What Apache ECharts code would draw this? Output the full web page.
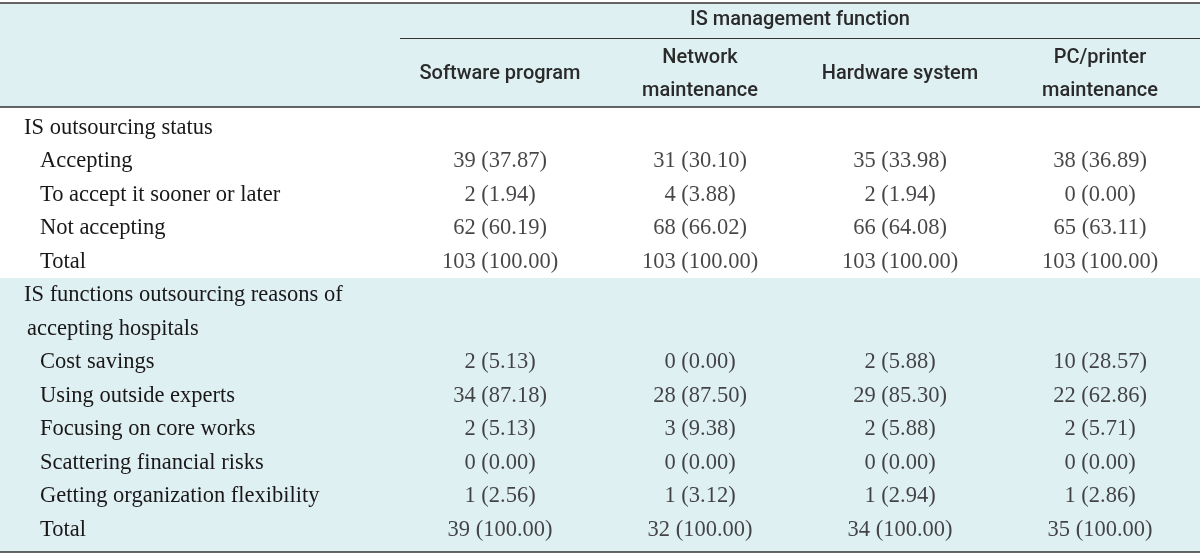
<!DOCTYPE html>
<html>
<head>
<meta charset="utf-8">
<script src="https://cdn.jsdelivr.net/npm/echarts@6/dist/echarts.min.js"></script>
<style>html,body{margin:0;padding:0;background:#fff}#c{width:1200px;height:554px}</style>
</head>
<body>
<div id="c"></div>
<script>
// ---- data ----
const groupTitle = 'IS management function';
const columns = ['Software program', 'Network\nmaintenance', 'Hardware system', 'PC/printer\nmaintenance'];
const rowLabels = [
  'IS outsourcing status',
  'Accepting',
  'To accept it sooner or later',
  'Not accepting',
  'Total',
  'IS functions outsourcing reasons of',
  'accepting hospitals',
  'Cost savings',
  'Using outside experts',
  'Focusing on core works',
  'Scattering financial risks',
  'Getting organization flexibility',
  'Total'
];
// row kinds: h = section heading, c = heading continuation, i = indented item
const rowKinds = ['h', 'i', 'i', 'i', 'i', 'h', 'c', 'i', 'i', 'i', 'i', 'i', 'i'];
// rows that carry values (index into rowLabels)
const valueRows = [1, 2, 3, 4, 7, 8, 9, 10, 11, 12];
const softwareN   = [39, 2, 62, 103, 2, 34, 2, 0, 1, 39];
const softwarePct = ['37.87', '1.94', '60.19', '100.00', '5.13', '87.18', '5.13', '0.00', '2.56', '100.00'];
const networkN    = [31, 4, 68, 103, 0, 28, 3, 0, 1, 32];
const networkPct  = ['30.10', '3.88', '66.02', '100.00', '0.00', '87.50', '9.38', '0.00', '3.12', '100.00'];
const hardwareN   = [35, 2, 66, 103, 2, 29, 2, 0, 1, 34];
const hardwarePct = ['33.98', '1.94', '64.08', '100.00', '5.88', '85.30', '5.88', '0.00', '2.94', '100.00'];
const pcN         = [38, 0, 65, 103, 10, 22, 2, 0, 1, 35];
const pcPct       = ['36.89', '0.00', '63.11', '100.00', '28.57', '62.86', '5.71', '0.00', '2.86', '100.00'];

const colN = [softwareN, networkN, hardwareN, pcN];
const colPct = [softwarePct, networkPct, hardwarePct, pcPct];

// ---- build ----
const cells = [];
colN.forEach((ns, ci) => {
  ns.forEach((n, k) => {
    cells.push({ value: [ci, valueRows[k]], text: n + ' (' + colPct[ci][k] + ')' });
  });
});

const SERIF = '"Liberation Serif", "Times New Roman", serif';
const SANS = 'Roboto, "Open Sans", sans-serif';
const INK = '#1a1718';
const HEAD_INK = '#2a2a2a';
const SHADE = '#dff0f3';
const LINE = '#333333';
const BODY_SIZE = 22.5;
const HEAD_SIZE = 20;

const GRID_TOP = 111, GRID_LEFT = 400, GRID_BOTTOM = 7.5;

const chart = echarts.init(document.getElementById('c'), null, { renderer: 'canvas' });
chart.setOption({
  animation: false,
  backgroundColor: '#ffffff',
  graphic: [
    { type: 'rect', z: -10, shape: { x: 0, y: 3, width: 1200, height: 104 }, style: { fill: SHADE } },
    { type: 'rect', z: -10, shape: { x: 0, y: 278, width: 1200, height: 274 }, style: { fill: SHADE } },
    { type: 'line', z: 10, shape: { x1: 0, y1: 3, x2: 1200, y2: 3 }, style: { stroke: LINE, lineWidth: 1.5 } },
    { type: 'line', z: 10, shape: { x1: 400, y1: 38.5, x2: 1200, y2: 38.5 }, style: { stroke: LINE, lineWidth: 1.2 } },
    { type: 'line', z: 10, shape: { x1: 0, y1: 107, x2: 1200, y2: 107 }, style: { stroke: LINE, lineWidth: 1.5 } },
    { type: 'line', z: 10, shape: { x1: 0, y1: 552, x2: 1200, y2: 552 }, style: { stroke: LINE, lineWidth: 1.5 } }
  ],
  grid: { left: GRID_LEFT, right: 0, top: GRID_TOP, bottom: GRID_BOTTOM, containLabel: false },
  xAxis: {
    type: 'category',
    position: 'top',
    data: columns,
    name: groupTitle,
    nameLocation: 'middle',
    nameGap: 91,
    nameTextStyle: { fontFamily: SANS, fontSize: HEAD_SIZE, fontWeight: 500, color: HEAD_INK, verticalAlign: 'middle' },
    axisLine: { show: false },
    axisTick: { show: false },
    splitLine: { show: false },
    axisLabel: {
      interval: 0,
      margin: 37,
      verticalAlign: 'middle',
      lineHeight: 33,
      fontFamily: SANS,
      fontSize: HEAD_SIZE,
      fontWeight: 500,
      color: HEAD_INK
    }
  },
  yAxis: {
    type: 'category',
    inverse: true,
    data: rowLabels,
    axisLine: { show: false },
    axisTick: { show: false },
    splitLine: { show: false },
    axisLabel: {
      interval: 0,
      align: 'left',
      margin: GRID_LEFT - 24,
      formatter: (v, idx) => '{' + rowKinds[idx] + '|' + v + '}',
      rich: {
        h: { fontFamily: SERIF, fontSize: BODY_SIZE, color: INK, padding: [0, 0, 0, 0] },
        c: { fontFamily: SERIF, fontSize: BODY_SIZE, color: INK, padding: [0, 0, 0, 3] },
        i: { fontFamily: SERIF, fontSize: BODY_SIZE, color: INK, padding: [0, 0, 0, 16] }
      }
    }
  },
  series: [{
    type: 'scatter',
    data: cells,
    symbolSize: 0,
    silent: true,
    label: {
      show: true,
      position: 'inside',
      formatter: p => p.data.text,
      fontFamily: SERIF,
      fontSize: BODY_SIZE,
      color: INK
    }
  }]
});
</script>
</body>
</html>
